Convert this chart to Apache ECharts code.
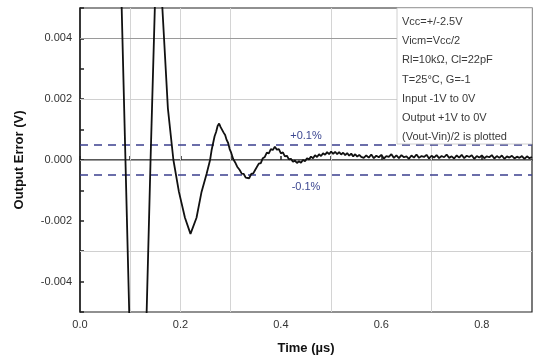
<!DOCTYPE html>
<html>
<head>
<meta charset="utf-8">
<script src="https://cdn.jsdelivr.net/npm/echarts@6/dist/echarts.min.js"></script>
<style>
  html, body { margin: 0; padding: 0; background: #fff; }
  #main { width: 535px; height: 363px; }
</style>
</head>
<body>
<div id="main"></div>
<script>
  // settling waveform, [time (us), error (V)]
  var edgePoints = [
    [0.080, 0.0065], [0.083, 0.005], [0.098, -0.005], [0.100, -0.0058],
    [0.116, -0.011], [0.131, -0.0058], [0.1327, -0.005], [0.1405, 0.000],
    [0.149, 0.005], [0.156, 0.0072], [0.164, 0.005], [0.175, 0.0017],
    [0.186, 0.000], [0.197, -0.00105], [0.209, -0.0019], [0.220, -0.00243],
    [0.232, -0.0019], [0.242, -0.00105], [0.252, -0.00046]
  ];
  var ringPoints = [
    [0.259, 0.0], [0.262, 0.00032], [0.265, 0.00055], [0.268, 0.00078], [0.271, 0.00092],
    [0.274, 0.00112], [0.277, 0.00120], [0.280, 0.00108], [0.283, 0.00104], [0.286, 0.00090],
    [0.289, 0.00082], [0.292, 0.00066], [0.295, 0.00056], [0.298, 0.00036], [0.301, 0.00024],
    [0.305, 0.00003], [0.309, -0.00008], [0.313, -0.00022], [0.318, -0.00033], [0.322, -0.00045],
    [0.326, -0.00046], [0.330, -0.00058], [0.333, -0.00054], [0.337, -0.00060], [0.341, -0.00046],
    [0.345, -0.00044], [0.349, -0.00032], [0.352, -0.00030], [0.356, -0.00012], [0.360, -0.00010],
    [0.364, 0.00006], [0.368, 0.00010], [0.372, 0.00024], [0.376, 0.00022], [0.380, 0.00036],
    [0.384, 0.00033], [0.388, 0.00044], [0.392, 0.00034], [0.396, 0.00036], [0.400, 0.00022],
    [0.404, 0.00025], [0.408, 0.00012], [0.412, 0.00014], [0.416, 0.00002], [0.420, 0.00004],
    [0.424, -0.00006], [0.428, -0.00002], [0.432, -0.00010], [0.436, -0.00004], [0.440, -0.00009],
    [0.444, 0.00000], [0.448, -0.00004], [0.452, 0.00006], [0.456, 0.00002], [0.460, 0.00011],
    [0.464, 0.00006], [0.468, 0.00016], [0.472, 0.00010], [0.476, 0.00019], [0.480, 0.00013],
    [0.484, 0.00022], [0.488, 0.00017], [0.492, 0.00026], [0.496, 0.00019], [0.500, 0.00028],
    [0.504, 0.00020], [0.508, 0.00027], [0.512, 0.00019], [0.516, 0.00026], [0.520, 0.00018],
    [0.524, 0.00024], [0.528, 0.00016], [0.532, 0.00023], [0.536, 0.00014], [0.540, 0.00021],
    [0.544, 0.00012], [0.548, 0.00019], [0.552, 0.00011], [0.556, 0.00017]
  ];
  // flat, noisy tail sampled every 5 ns from 0.56 us
  var tailStart = 0.56;
  var tailStep = 0.005;
  var tailValues = [
    0.00010,0.00007,0.00015,0.00008,0.00018,0.00006,0.00014,0.00009,0.00017,0.00005,
    0.00013,0.00010,0.00019,0.00007,0.00015,0.00006,0.00016,0.00009,0.00012,0.00004,
    0.00015,0.00008,0.00018,0.00007,0.00013,0.00010,0.00017,0.00005,0.00014,0.00008,
    0.00016,0.00006,0.00013,0.00009,0.00018,0.00007,0.00012,0.00005,0.00015,0.00008,
    0.00017,0.00006,0.00014,0.00010,0.00016,0.00004,0.00013,0.00008,0.00015,0.00006,
    0.00012,0.00009,0.00016,0.00005,0.00013,0.00007,0.00015,0.00004,0.00012,0.00008,
    0.00014,0.00005,0.00011,0.00007,0.00013,0.00004,0.00012,0.00006,0.00010
  ];
  var limitLines = [0.0005, -0.0005];
  var limitLabels = ['+0.1%', '-0.1%'];
  var gridX = [0.1, 0.2, 0.3, 0.5, 0.7];
  var gridY = [0.004, 0.002, 0.0, -0.003];
  var notes = [
    'Vcc=+/-2.5V',
    'Vicm=Vcc/2',
    'Rl=10kΩ, Cl=22pF',
    'T=25°C, G=-1',
    'Input -1V to 0V',
    'Output +1V to 0V',
    '(Vout-Vin)/2 is plotted'
  ];

  var tailPoints = tailValues.map(function (v, i) {
    return [+(tailStart + i * tailStep).toFixed(3), v];
  });
  var trace = edgePoints.concat(ringPoints, tailPoints);

  var font = 'Liberation Sans, Arial, sans-serif';
  var chart = echarts.init(document.getElementById('main'));

  var gridMarks = [];
  gridX.forEach(function (x) {
    gridMarks.push({ xAxis: x, lineStyle: { color: '#d4d4d4', width: 1, type: 'solid' } });
  });
  gridY.forEach(function (y) {
    var dark = (y === 0.004 || y === 0);
    gridMarks.push({ yAxis: y, lineStyle: { color: dark ? '#9a9a9a' : '#d0d0d0', width: 1, type: 'solid' } });
  });
  var limitMarks = limitLines.map(function (y) {
    return { yAxis: y, lineStyle: { color: '#3b3f8f', width: 1.5, type: [8, 6] } };
  });

  var noteGraphics = [{
    type: 'rect',
    shape: { x: 397, y: 8, width: 135, height: 136 },
    style: { fill: '#fff', stroke: '#c4c4c4', lineWidth: 0.8 },
    z: 10
  }];
  notes.forEach(function (t, i) {
    noteGraphics.push({
      type: 'text',
      x: 402,
      y: 22 + i * 19.2,
      style: { text: t, font: '11px ' + font, fill: '#3a3a3a', textVerticalAlign: 'middle' },
      z: 11
    });
  });

  chart.setOption({
    animation: false,
    grid: {
      left: 80, right: 3, top: 8, bottom: 51,
      show: true, borderColor: '#222', borderWidth: 1.2
    },
    xAxis: {
      type: 'value',
      min: 0, max: 0.9, interval: 0.1,
      name: 'Time (µs)',
      nameLocation: 'middle',
      nameGap: 30,
      nameTextStyle: { fontFamily: font, fontSize: 13, fontWeight: 'bold', color: '#111' },
      axisLine: { lineStyle: { color: '#222', width: 1.5 } },
      axisTick: { inside: true, length: 4, lineStyle: { color: '#222', width: 1.5 } },
      splitLine: { show: false },
      axisLabel: {
        fontFamily: font, fontSize: 11, color: '#333', margin: 7,
        showMaxLabel: false,
        formatter: function (v) {
          var k = Math.round(v * 10);
          return k % 2 === 0 ? (k / 10).toFixed(1) : '';
        }
      }
    },
    yAxis: {
      type: 'value',
      min: -0.005, max: 0.005, interval: 0.001,
      name: 'Output Error (V)',
      nameLocation: 'middle',
      nameGap: 54,
      nameTextStyle: { fontFamily: font, fontSize: 13, fontWeight: 'bold', color: '#111' },
      axisLine: { lineStyle: { color: '#222', width: 1.5 } },
      axisTick: { inside: true, length: 4, lineStyle: { color: '#222', width: 1.5 } },
      splitLine: { show: false },
      axisLabel: {
        fontFamily: font, fontSize: 11, color: '#333', margin: 8,
        formatter: function (v) {
          var k = Math.round(v * 1000);
          if (Math.abs(k) >= 5 || k % 2 !== 0) return '';
          return (k / 1000).toFixed(3);
        }
      }
    },
    series: [
      {
        // invisible copy of the trace that carries the grid and limit lines
        type: 'line',
        data: trace,
        z: 1,
        silent: true,
        showSymbol: false,
        symbol: 'none',
        lineStyle: { opacity: 0 },
        markLine: {
          z: 1,
          silent: true,
          symbol: 'none',
          precision: 6,
          label: { show: false },
          data: gridMarks.concat(limitMarks)
        },
        markPoint: {
          z: 1,
          silent: true,
          symbol: 'rect',
          symbolSize: 0,
          label: { show: true, fontFamily: font, fontSize: 11, color: '#3b4690' },
          data: [
            { coord: [0.45, 0.00079], label: { formatter: limitLabels[0] } },
            { coord: [0.45, -0.00089], label: { formatter: limitLabels[1] } }
          ]
        }
      },
      {
        type: 'line',
        data: trace,
        z: 3,
        showSymbol: false,
        symbol: 'none',
        clip: true,
        lineStyle: { color: '#111', width: 1.8 }
      }
    ],
    graphic: noteGraphics
  });
</script>
</body>
</html>
